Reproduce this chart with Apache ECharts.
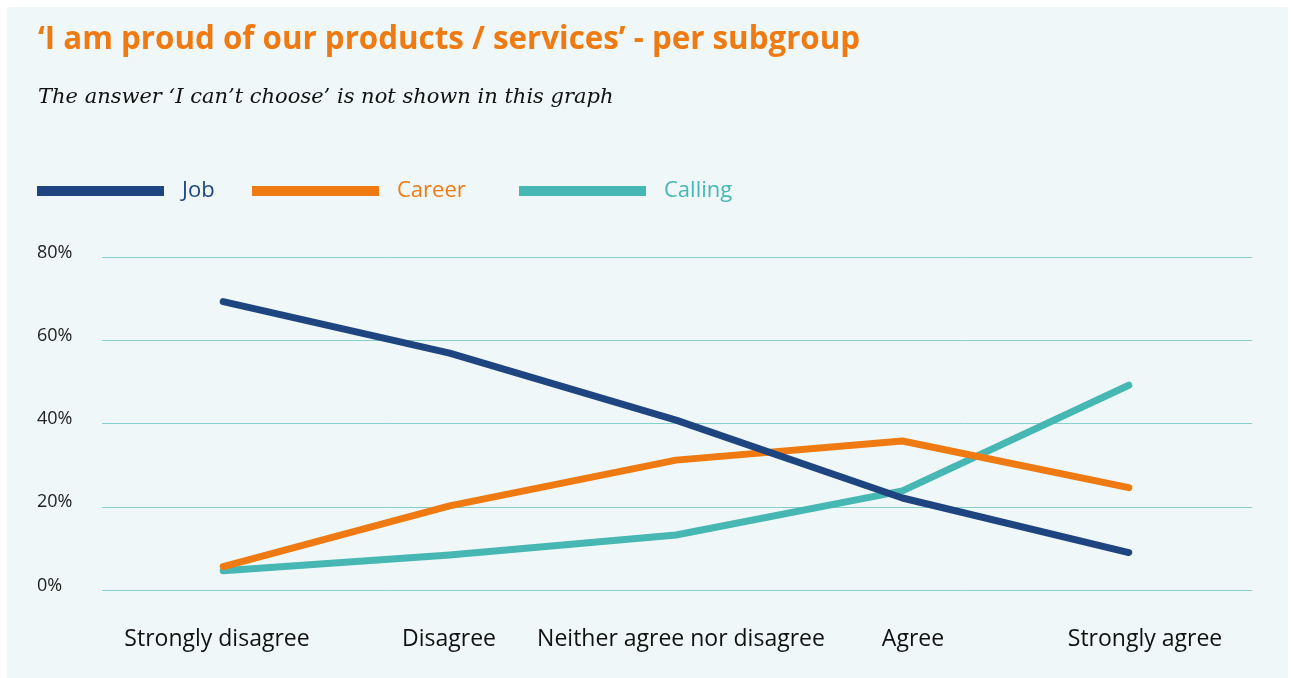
<!DOCTYPE html>
<html>
<head>
<meta charset="utf-8">
<script src="https://cdn.jsdelivr.net/npm/echarts@6/dist/echarts.min.js"></script>
<style>
html,body{margin:0;padding:0;background:#ffffff;}
#c{width:1291px;height:678px;}
</style>
</head>
<body>
<div id="c"></div>
<script>
var categories = ['Strongly disagree', 'Disagree', 'Neither agree nor disagree', 'Agree', 'Strongly agree'];
var jobValues = [69.3, 56.9, 40.8, 22.1, 9.0];
var careerValues = [5.6, 20.2, 31.2, 35.8, 24.6];
var callingValues = [4.6, 8.4, 13.2, 23.8, 49.2];
var yTicks = [0, 20, 40, 60, 80];
var seriesNames = ['Job', 'Career', 'Calling'];
var colors = ['#1f4580', '#f07a12', '#47b7b4'];

var chart = echarts.init(document.getElementById('c'));
var gridTop = 257, gridBottom = 88;
var sans = '"Open Sans", "Noto Sans", sans-serif';

function legendFor(i, left) {
  return {
    left: left, top: 175, icon: 'rect', itemWidth: 127, itemHeight: 10,
    data: [seriesNames[i]], selectedMode: false,
    textStyle: { color: colors[i], fontFamily: sans, fontSize: 22, padding: [0, 0, 0, 13] }
  };
}

var option = {
  backgroundColor: '#ffffff',
  animation: false,
  graphic: [{ type: 'rect', z: -10, silent: true, shape: { x: 7, y: 7, width: 1281, height: 671 }, style: { fill: '#eff7f9' } }],
  title: [
    { text: '\u2018I am proud of our products / services\u2019 - per subgroup', left: 33, top: 20,
      textStyle: { color: '#f07a12', fontFamily: '"Open Sans", sans-serif', fontWeight: 'bold', fontSize: 31.3 } },
    { text: 'The answer \u2018I can\u2019t choose\u2019 is not shown in this graph', left: 33, top: 82,
      textStyle: { color: '#111111', fontFamily: '"DejaVu Serif", "Liberation Serif", serif', fontStyle: 'italic', fontWeight: 'normal', fontSize: 21 } }
  ],
  legend: [legendFor(0, 32), legendFor(1, 247), legendFor(2, 514)],
  grid: [
    { left: 102, right: 39, top: gridTop, bottom: gridBottom },
    { left: 101, right: 30, top: gridTop, bottom: gridBottom },
    { left: 110, right: 49, top: gridTop, bottom: gridBottom }
  ],
  xAxis: [
    { gridIndex: 0, type: 'category', data: categories, show: false },
    { gridIndex: 1, type: 'category', data: categories, boundaryGap: true,
      axisLine: { show: false }, axisTick: { show: false },
      axisLabel: { interval: 0, margin: 38, color: '#111111', fontFamily: sans, fontSize: 23 } },
    { gridIndex: 2, type: 'category', data: categories, boundaryGap: true, show: false }
  ],
  yAxis: [
    { gridIndex: 0, type: 'value', min: 0, max: 80, interval: 20,
      axisLine: { show: false }, axisTick: { show: false },
      splitLine: { lineStyle: { color: '#86cfcf', width: 1 } },
      axisLabel: { align: 'left', margin: 65, color: '#222222', fontFamily: sans, fontSize: 18,
        verticalAlign: 'bottom', lineHeight: 9,
        formatter: function (v) { return yTicks.indexOf(v) >= 0 ? v + '%' : ''; } } },
    { gridIndex: 1, type: 'value', min: 0, max: 80, show: false },
    { gridIndex: 2, type: 'value', min: 0, max: 80, show: false }
  ],
  series: [jobValues, careerValues, callingValues].map(function (vals, i) {
    return {
      name: seriesNames[i], type: 'line', xAxisIndex: 2, yAxisIndex: 2,
      data: vals, symbol: 'none', smooth: false, z: 5 + (2 - i),
      itemStyle: { color: colors[i] },
      lineStyle: { color: colors[i], width: 7, cap: 'round', join: 'round' }
    };
  })
};
chart.setOption(option);
</script>
</body>
</html>
